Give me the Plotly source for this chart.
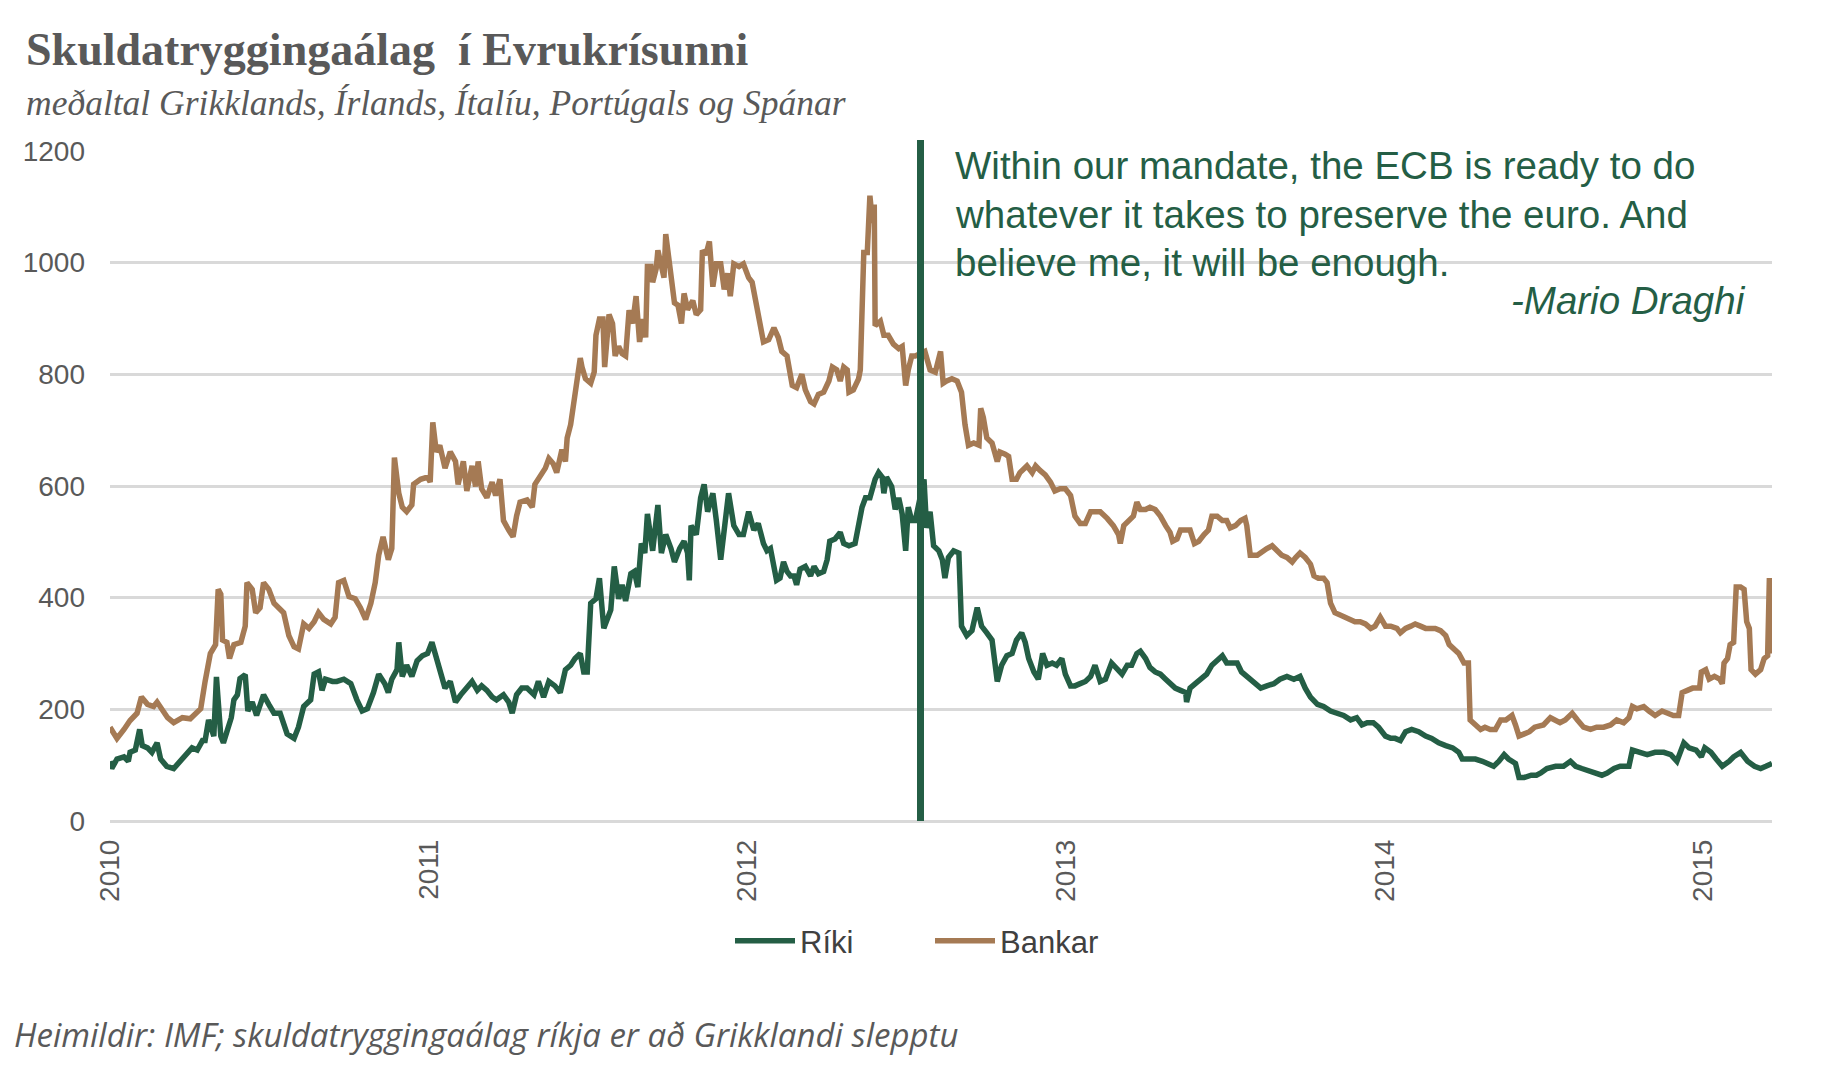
import plotly.graph_objects as go

# ---------------- data ----------------
bankar_dates = [
 "2010-01-01","2010-01-09","2010-01-17","2010-01-24","2010-02-01","2010-02-06","2010-02-13","2010-02-20","2010-02-24","2010-03-04",
 "2010-03-08","2010-03-15","2010-03-25","2010-04-03","2010-04-15","2010-04-20","2010-04-26","2010-05-02","2010-05-05","2010-05-08",
 "2010-05-10","2010-05-15","2010-05-18","2010-05-23","2010-05-31","2010-06-05","2010-06-07","2010-06-13","2010-06-17","2010-06-22",
 "2010-06-26","2010-07-02","2010-07-08","2010-07-19","2010-07-25","2010-07-31","2010-08-05","2010-08-11","2010-08-17","2010-08-23",
 "2010-08-28","2010-09-03","2010-09-11","2010-09-16","2010-09-20","2010-09-26","2010-10-02","2010-10-09","2010-10-15","2010-10-21",
 "2010-10-27","2010-11-01","2010-11-05",
 "2010-11-10","2010-11-16","2010-11-20","2010-11-23","2010-11-28","2010-12-02","2010-12-07","2010-12-13","2010-12-15","2010-12-23",
 "2010-12-31","2011-01-03","2011-01-06","2011-01-10","2011-01-14","2011-01-20","2011-01-26","2011-02-01","2011-02-04","2011-02-10",
 "2011-02-14","2011-02-20","2011-02-24","2011-02-27","2011-03-03","2011-03-09","2011-03-15","2011-03-19","2011-03-24","2011-03-28",
 "2011-04-03","2011-04-08","2011-04-12","2011-04-16","2011-04-24","2011-04-30","2011-05-03","2011-05-09","2011-05-15","2011-05-19",
 "2011-05-24","2011-05-28","2011-06-03","2011-06-07","2011-06-09","2011-06-13","2011-06-16","2011-06-20","2011-06-24","2011-06-26",
 "2011-06-30","2011-07-06","2011-07-10","2011-07-12","2011-07-16","2011-07-20","2011-07-22","2011-07-27","2011-07-31","2011-08-03",
 "2011-08-07","2011-08-11","2011-08-15","2011-08-19","2011-08-23","2011-08-27","2011-08-31","2011-09-04","2011-09-07","2011-09-09",
 "2011-09-13","2011-09-15","2011-09-19","2011-09-21","2011-09-25","2011-09-28","2011-09-30","2011-10-04","2011-10-10","2011-10-14",
 "2011-10-18","2011-10-21","2011-10-25","2011-10-31","2011-11-04","2011-11-09","2011-11-11","2011-11-15","2011-11-19","2011-11-23",
 "2011-11-27","2011-12-02","2011-12-06","2011-12-10","2011-12-13","2011-12-17","2011-12-23","2011-12-28","2012-01-03","2012-01-07",
 "2012-01-11","2012-01-14",
 "2012-01-20","2012-01-26","2012-02-01","2012-02-06","2012-02-10","2012-02-16","2012-02-22","2012-02-27","2012-03-04","2012-03-08",
 "2012-03-14","2012-03-18","2012-03-23","2012-03-29","2012-04-04","2012-04-08","2012-04-13","2012-04-17","2012-04-21","2012-04-25",
 "2012-04-27","2012-05-02","2012-05-08","2012-05-10","2012-05-12","2012-05-14","2012-05-18","2012-05-21","2012-05-24","2012-05-26",
 "2012-05-27","2012-06-02","2012-06-06","2012-06-11","2012-06-17","2012-06-23","2012-06-27","2012-07-01","2012-07-04","2012-07-08",
 "2012-07-12","2012-07-23","2012-07-29","2012-08-04","2012-08-10","2012-08-13","2012-08-17","2012-08-23","2012-08-29","2012-09-03",
 "2012-09-07","2012-09-11","2012-09-17","2012-09-23","2012-09-25","2012-09-28","2012-10-02","2012-10-08","2012-10-14","2012-10-17",
 "2012-10-23","2012-10-27","2012-10-31","2012-11-05","2012-11-09","2012-11-17","2012-11-23","2012-11-27","2012-12-02","2012-12-08",
 "2012-12-14","2012-12-19","2012-12-25","2012-12-31","2013-01-06","2013-01-11","2013-01-17","2013-01-23","2013-01-29","2013-02-03",
 "2013-02-09","2013-02-17","2013-02-24","2013-03-02","2013-03-04","2013-03-08","2013-03-13","2013-03-19","2013-03-23","2013-03-27",
 "2013-04-02","2013-04-07","2013-04-13","2013-04-19","2013-04-25","2013-04-30","2013-05-03","2013-05-08","2013-05-12","2013-05-18",
 "2013-05-23","2013-05-28","2013-06-02","2013-06-08","2013-06-13","2013-06-17","2013-06-23","2013-06-29","2013-07-04","2013-07-08",
 "2013-07-14","2013-07-20","2013-07-25","2013-07-27","2013-07-31","2013-08-08","2013-08-14","2013-08-19","2013-08-25","2013-08-31",
 "2013-09-05","2013-09-11","2013-09-17","2013-09-21","2013-09-26","2013-10-02","2013-10-08","2013-10-12","2013-10-17","2013-10-23",
 "2013-10-27","2013-10-31","2013-11-05","2013-11-11","2013-11-17","2013-11-23","2013-11-28","2013-12-04","2013-12-10","2013-12-16",
 "2013-12-21","2013-12-27","2014-01-02","2014-01-08","2014-01-15","2014-01-19","2014-01-25","2014-01-31","2014-02-05","2014-02-11",
 "2014-02-17","2014-02-22","2014-02-28","2014-03-06","2014-03-12","2014-03-16","2014-03-22","2014-03-27","2014-04-02","2014-04-07",
 "2014-04-09","2014-04-15","2014-04-21","2014-04-26","2014-05-02","2014-05-08","2014-05-14","2014-05-20","2014-05-27","2014-05-31",
 "2014-06-04","2014-06-10","2014-06-16","2014-06-22",
 "2014-07-02","2014-07-10","2014-07-16","2014-07-21","2014-07-27","2014-08-04","2014-08-10","2014-08-17","2014-08-25","2014-09-01",
 "2014-09-09","2014-09-17","2014-09-24","2014-10-02","2014-10-08","2014-10-12","2014-10-17","2014-10-25","2014-10-31","2014-11-07",
 "2014-11-15","2014-11-21","2014-11-28","2014-12-04","2014-12-08","2014-12-14","2014-12-20","2014-12-28","2014-12-30","2015-01-04",
 "2015-01-08","2015-01-14","2015-01-20","2015-01-23","2015-01-25","2015-01-29","2015-02-01","2015-02-05","2015-02-08","2015-02-13",
 "2015-02-17","2015-02-20","2015-02-23","2015-02-25","2015-03-02","2015-03-08","2015-03-12","2015-03-16","2015-03-18","2015-03-21",
]
bankar_vals = [
 168,148,164,180,193,222,209,205,213,193,
 185,176,185,183,201,250,300,316,415,406,
 324,320,291,316,320,349,427,415,373,382,
 427,415,390,373,332,312,308,353,345,357,
 373,361,353,365,427,431,402,398,382,361,
 390,427,476,
 509,468,488,651,587,562,554,566,603,612,
 616,607,714,661,673,632,661,644,603,644,
 591,636,599,644,595,579,607,583,612,538,
 521,509,546,571,575,562,603,616,632,649,
 640,624,665,644,686,710,739,780,829,813,
 792,784,804,870,899,899,813,907,891,833,
 850,837,833,915,891,940,858,899,866,993,
 993,965,989,1022,989,973,1051,1001,928,924,
 891,945,916,932,907,916,1022,1014,1038,957,
 998,998,952,981,940,998,993,998,973,965,
 932,907,
 858,862,883,866,841,833,780,776,800,772,
 751,747,764,768,788,813,808,788,813,808,
 768,772,792,808,923,1018,1018,1120,1071,1104,
 887,895,870,870,854,846,850,780,808,833,
 833,841,808,804,841,784,788,792,788,768,
 710,673,677,673,739,723,686,677,644,661,
 657,653,612,612,624,636,624,636,628,620,
 607,591,595,595,583,546,533,533,554,554,
 554,542,529,513,497,529,538,546,571,558,
 558,562,558,546,529,517,501,505,521,521,
 521,497,501,513,521,546,546,538,538,525,
 529,538,542,529,476,476,484,488,493,484,
 476,472,464,472,480,472,460,439,435,435,
 427,390,373,369,365,361,357,357,353,345,
 349,365,349,349,345,337,345,349,353,349,
 345,345,345,341,332,316,308,300,283,283,
 181,172,164,168,164,164,181,181,189,172,
 152,156,160,168,
 172,185,181,176,181,193,181,168,164,168,
 168,172,181,176,185,205,201,205,197,189,
 197,193,189,189,230,234,238,238,267,271,
 254,259,254,246,283,291,316,320,419,419,
 415,357,345,271,263,271,291,296,435,300,
]

riki_dates = [
 "2010-01-01","2010-01-03","2010-01-09","2010-01-17","2010-01-22","2010-01-24","2010-01-30","2010-02-04","2010-02-07","2010-02-13",
 "2010-02-18","2010-02-24","2010-02-28","2010-03-07","2010-03-15","2010-03-23","2010-03-30","2010-04-05","2010-04-11","2010-04-17",
 "2010-04-20","2010-04-24","2010-04-30","2010-05-03","2010-05-08","2010-05-11","2010-05-15","2010-05-20","2010-05-23","2010-05-27",
 "2010-05-30","2010-06-05","2010-06-08","2010-06-13","2010-06-18","2010-06-22","2010-06-26","2010-07-02","2010-07-08","2010-07-15",
 "2010-07-23","2010-07-31","2010-08-05","2010-08-11","2010-08-19","2010-08-23","2010-08-28","2010-09-01","2010-09-05","2010-09-13",
 "2010-09-18","2010-09-26","2010-10-04","2010-10-11","2010-10-17","2010-10-23","2010-10-30","2010-11-05",
 "2010-11-12","2010-11-16","2010-11-20","2010-11-26","2010-11-28","2010-12-02","2010-12-07","2010-12-13","2010-12-19","2010-12-25",
 "2010-12-31","2011-01-05","2011-01-09","2011-01-14","2011-01-20","2011-01-26","2011-02-01","2011-02-07","2011-02-14","2011-02-20",
 "2011-02-26","2011-03-03","2011-03-09","2011-03-15","2011-03-20","2011-03-28","2011-04-03","2011-04-07","2011-04-12","2011-04-18",
 "2011-04-24","2011-05-02","2011-05-07","2011-05-13","2011-05-19","2011-05-26","2011-06-01","2011-06-07","2011-06-13","2011-06-18",
 "2011-06-24","2011-06-28","2011-07-02","2011-07-06","2011-07-12","2011-07-16","2011-07-21","2011-07-25","2011-07-29","2011-08-02",
 "2011-08-07","2011-08-11","2011-08-15","2011-08-21","2011-08-25","2011-08-29","2011-09-02","2011-09-06","2011-09-09","2011-09-15",
 "2011-09-21","2011-09-25","2011-09-30","2011-10-06","2011-10-10","2011-10-16","2011-10-21","2011-10-25","2011-10-27","2011-10-29",
 "2011-11-04","2011-11-09","2011-11-13","2011-11-17","2011-11-23","2011-11-27","2011-12-02","2011-12-06","2011-12-11","2011-12-17",
 "2011-12-23","2011-12-28","2012-01-03","2012-01-09","2012-01-14",
 "2012-01-20","2012-01-24","2012-01-28","2012-02-01","2012-02-04","2012-02-08","2012-02-12","2012-02-16","2012-02-20","2012-02-24",
 "2012-02-27","2012-03-02","2012-03-08","2012-03-14","2012-03-18","2012-03-23","2012-03-29","2012-04-02","2012-04-05","2012-04-11",
 "2012-04-17","2012-04-21","2012-04-27","2012-05-04","2012-05-08","2012-05-12","2012-05-16","2012-05-21","2012-05-27","2012-05-31",
 "2012-06-04","2012-06-06","2012-06-09","2012-06-15","2012-06-19","2012-06-23","2012-06-27","2012-07-01","2012-07-04","2012-07-08",
 "2012-07-12","2012-07-22","2012-07-25","2012-07-29","2012-08-02","2012-08-08","2012-08-12","2012-08-15","2012-08-19","2012-08-25",
 "2012-08-31","2012-09-03","2012-09-09","2012-09-15","2012-09-21","2012-09-26","2012-10-02","2012-10-08","2012-10-14","2012-10-19",
 "2012-10-25","2012-10-31","2012-11-05","2012-11-11","2012-11-15","2012-11-19","2012-11-25","2012-11-30","2012-12-05","2012-12-10",
 "2012-12-16","2012-12-21","2012-12-27","2012-12-31","2013-01-06","2013-01-11","2013-01-17","2013-01-23","2013-01-29","2013-02-03",
 "2013-02-09","2013-02-15","2013-02-22","2013-02-28","2013-03-06","2013-03-12","2013-03-17","2013-03-23","2013-03-27",
 "2013-04-02","2013-04-07","2013-04-13","2013-04-19","2013-04-25","2013-04-30","2013-05-06","2013-05-12","2013-05-18","2013-05-19",
 "2013-05-23","2013-05-29","2013-06-04","2013-06-11","2013-06-17","2013-06-23","2013-06-29","2013-07-04","2013-07-10","2013-07-16",
 "2013-07-21","2013-07-27","2013-08-04","2013-08-12","2013-08-19","2013-08-27","2013-09-03","2013-09-11","2013-09-19","2013-09-26",
 "2013-10-02","2013-10-08","2013-10-16","2013-10-23","2013-10-31","2013-11-07","2013-11-15","2013-11-23","2013-11-30","2013-12-06",
 "2013-12-12","2013-12-19","2013-12-25","2014-01-02","2014-01-08","2014-01-13","2014-01-19","2014-01-25","2014-02-01","2014-02-09",
 "2014-02-17","2014-02-24","2014-03-04","2014-03-12","2014-03-20","2014-03-27","2014-03-31","2014-04-07","2014-04-15","2014-04-23",
 "2014-04-30","2014-05-06","2014-05-12","2014-05-18","2014-05-23","2014-05-31","2014-06-04","2014-06-10","2014-06-18","2014-06-24",
 "2014-06-29",
 "2014-07-06","2014-07-16","2014-07-25","2014-08-02","2014-08-08","2014-08-15","2014-08-23","2014-08-31","2014-09-07","2014-09-13",
 "2014-09-21","2014-09-28","2014-10-08","2014-10-12","2014-10-19","2014-10-29","2014-11-07","2014-11-17","2014-11-25","2014-12-02",
 "2014-12-10","2014-12-16","2014-12-24","2014-12-30","2015-01-03","2015-01-10","2015-01-16","2015-01-23","2015-01-31","2015-02-05",
 "2015-02-13","2015-02-21","2015-03-01","2015-03-08","2015-03-14","2015-03-21",
]
riki_vals = [
 107,94,111,115,107,123,127,164,135,131,
 123,140,111,98,94,107,119,131,127,144,
 144,181,152,258,152,140,160,185,217,226,
 255,262,197,213,189,209,226,209,193,193,
 156,148,168,205,217,263,267,234,254,250,
 250,254,246,217,197,201,230,263,
 246,230,254,271,320,259,279,259,287,296,
 300,320,300,267,238,250,213,226,238,250,
 234,242,234,222,217,226,213,193,226,238,
 238,226,250,222,250,242,230,271,279,291,
 300,267,267,390,398,435,345,365,378,456,
 398,423,394,443,447,419,497,480,550,484,
 566,480,513,488,464,488,501,480,431,529,
 513,579,603,554,587,538,468,521,587,529,
 513,513,554,521,533,
 497,484,488,460,431,435,464,447,439,439,
 423,451,456,439,456,443,447,468,501,505,
 517,497,493,497,529,562,579,579,612,624,
 616,587,616,599,558,579,550,484,562,538,
 538,612,525,554,493,484,468,435,472,484,
 480,349,332,341,382,349,337,324,250,279,
 296,300,324,337,320,291,267,254,300,279,
 283,279,291,263,242,242,246,250,259,279,
 250,254,283,271,263,279,279,300,304,
 291,275,267,263,254,246,238,234,230,213,
 238,246,254,263,279,287,296,283,283,283,
 267,259,246,238,242,246,254,259,254,259,
 238,222,209,205,197,193,189,181,185,172,
 176,176,168,152,148,148,144,160,164,160,
 152,148,140,135,131,123,111,111,111,107,
 103,98,107,119,111,103,78,78,82,82,
 86,
 94,98,98,107,98,94,90,86,82,86,
 94,98,98,127,123,119,123,123,119,107,
 140,131,127,115,131,123,111,98,107,115,
 123,107,98,94,98,103,
]

series_names = ["Ríki", "Bankar"]
series_colors = ["#245E45", "#A57A54"]

y_tick_vals = [0, 200, 400, 600, 800, 1000, 1200]
x_tick_dates = ["2010-01-01", "2011-01-01", "2012-01-01", "2013-01-01", "2014-01-01", "2015-01-01"]
x_tick_text = ["2010", "2011", "2012", "2013", "2014", "2015"]
x_range = ["2010-01-01", "2015-03-21"]
y_range = [0, 1200]
draghi_date = "2012-07-18"

title_text = "<b>Skuldatryggingaálag\u00a0 í Evrukrísunni</b>"
subtitle_text = "meðaltal Grikklands, Írlands, Ítalíu, Portúgals og Spánar"
quote_lines = ["Within our mandate, the ECB is ready to do",
               "whatever it takes to preserve the euro. And",
               "believe me, it will be enough."]
quote_author = "-Mario Draghi"
source_text = "Heimildir: IMF; skuldatryggingaálag ríkja er að Grikklandi slepptu"

# ---------------- layout geometry (page pixels; page body has an 8px margin) ----------------
OFF = 8
W, H = 1830, 1070
PLOT_L, PLOT_R, PLOT_T, PLOT_B = 110, 1772, 151, 821      # plot area in page pixels
ML, MT = PLOT_L - OFF, PLOT_T - OFF
MR, MB = W - (PLOT_R - OFF), H - (PLOT_B - OFF)
PW, PH = PLOT_R - PLOT_L, PLOT_B - PLOT_T


def px(xp):
    return (xp - PLOT_L) / PW


def py(yp):
    return (PLOT_B - yp) / PH


fig = go.Figure()
fig.add_trace(go.Scatter(x=riki_dates, y=riki_vals, mode="lines", name=series_names[0],
                         line=dict(color=series_colors[0], width=5.5)))
fig.add_trace(go.Scatter(x=bankar_dates, y=bankar_vals, mode="lines", name=series_names[1],
                         line=dict(color=series_colors[1], width=5.5)))

fig.add_shape(type="line", xref="x", yref="paper", x0=draghi_date, x1=draghi_date,
              y0=0, y1=py(140), line=dict(color=series_colors[0], width=7), layer="above")

axis_font = dict(family="Liberation Sans, Arial, sans-serif", size=28, color="#595959")
quote_font = dict(family="Liberation Sans, Arial, sans-serif", size=38.5, color="#245E45")

annotations = [
    dict(text=title_text, xref="paper", yref="paper", x=px(24), y=py(50),
         xanchor="left", yanchor="middle", showarrow=False,
         font=dict(family="Liberation Serif, serif", size=46, color="#595959")),
    dict(text="<i>" + subtitle_text + "</i>", xref="paper", yref="paper", x=px(24), y=py(103),
         xanchor="left", yanchor="middle", showarrow=False,
         font=dict(family="Liberation Serif, serif", size=35.5, color="#595959")),
    dict(text="<i>" + quote_author + "</i>", xref="paper", yref="paper", x=px(1748), y=py(300),
         xanchor="right", yanchor="middle", showarrow=False, font=quote_font),
    dict(text="<i>" + source_text + "</i>", xref="paper", yref="paper", x=px(12), y=py(1034),
         xanchor="left", yanchor="middle", showarrow=False,
         font=dict(family="Open Sans, sans-serif", size=33, color="#595959")),
]
for line_text, yc in zip(quote_lines, [166, 214, 262]):
    annotations.append(dict(text=line_text, xref="paper", yref="paper", x=px(953), y=py(yc),
                            xanchor="left", yanchor="middle", showarrow=False, font=quote_font))

fig.update_layout(
    width=W, height=H,
    margin=dict(l=ML, r=MR, t=MT, b=MB, pad=0),
    paper_bgcolor="white", plot_bgcolor="white",
    showlegend=True,
    legend=dict(orientation="h", x=px(930), xanchor="center", y=py(941), yanchor="middle",
                font=dict(family="Liberation Sans, Arial, sans-serif", size=31, color="#404040"),
                itemwidth=60, entrywidth=125, tracegroupgap=0, bgcolor="rgba(0,0,0,0)"),
    xaxis=dict(type="date", range=x_range, tickvals=x_tick_dates, ticktext=x_tick_text,
               tickangle=-90, showgrid=False, zeroline=False, showline=False, ticks="",
               tickfont=axis_font, ticklabelstandoff=12),
    yaxis=dict(range=y_range, tickvals=y_tick_vals, showgrid=True, gridcolor="#D9D9D9",
               gridwidth=3, zeroline=True, zerolinecolor="#D9D9D9", zerolinewidth=3,
               showline=False, ticks="", tickfont=axis_font, ticklabelstandoff=24),
    annotations=annotations,
)

fig.write_html("out.html")
